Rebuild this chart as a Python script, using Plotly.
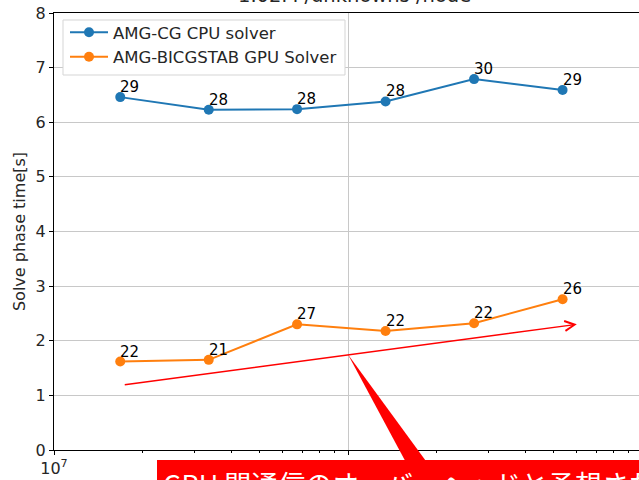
import math
import plotly.graph_objects as go

# ---- data ----
problem_size = [16.8e6, 33.6e6, 67.1e6, 134.2e6, 268.4e6, 536.9e6]
cpu_time = [6.46, 6.23, 6.24, 6.38, 6.79, 6.59]
gpu_time = [1.62, 1.65, 2.30, 2.18, 2.32, 2.76]
cpu_labels = ["29", "28", "28", "28", "30", "29"]
gpu_labels = ["22", "21", "27", "22", "22", "26"]
cpu_name = "AMG-CG CPU solver"
gpu_name = "AMG-BICGSTAB GPU Solver"
trend_x = [1.72e7, 6.0e8]
trend_y = [1.19, 2.30]
callout_tip = (1.0e8, 1.75)
callout_text = "GPU 間通信のオーバーヘッドと予想される"
title_text = "1.02M /unknowns /node"
y_title = "Solve phase time[s]"
x_tick_vals = [1e7, 1e8, 1e9]
x_tick_text = ["10<sup>7</sup>", "", ""]   # 10^8 label is hidden under the callout box
x_minor_vals = [m * d for d in (1e7, 1e8) for m in range(2, 10)]
y_tick_vals = list(range(0, 9))

# ---- layout geometry (pixels) ----
W, H = 639, 480
L, T, B = 54, 13, 30
plot_w = W - L
plot_h = H - T - B
decade_px = 294.0
x_range = [7, 7 + plot_w / decade_px]
y_range = [0, 8]


def px_x(px):
    return (px - L) / plot_w


def px_y(py):
    return (H - B - py) / plot_h


def data_paper_x(x):
    return (math.log10(x) - x_range[0]) / (x_range[1] - x_range[0])


def data_paper_y(y):
    return (y - y_range[0]) / (y_range[1] - y_range[0])


BLUE = "#1f77b4"
ORANGE = "#ff7f0e"
FONT = "DejaVu Sans"
TXT = "#262626"

fig = go.Figure()
fig.add_trace(go.Scatter(x=problem_size, y=cpu_time, mode="lines+markers", name=cpu_name,
                         line=dict(color=BLUE, width=2), marker=dict(color=BLUE, size=10)))
fig.add_trace(go.Scatter(x=problem_size, y=gpu_time, mode="lines+markers", name=gpu_name,
                         line=dict(color=ORANGE, width=2), marker=dict(color=ORANGE, size=10)))

annotations = []
for xs, ys, labs in ((problem_size, cpu_time, cpu_labels), (problem_size, gpu_time, gpu_labels)):
    for xv, yv, lab in zip(xs, ys, labs):
        annotations.append(dict(x=math.log10(xv), y=yv, xref="x", yref="y", text=lab,
                                showarrow=False, xanchor="left", yanchor="bottom",
                                xshift=-2, yshift=-1,
                                font=dict(family=FONT, size=15, color="black")))

# red trend arrow
annotations.append(dict(x=math.log10(trend_x[1]), y=trend_y[1], xref="x", yref="y",
                        ax=math.log10(trend_x[0]), ay=trend_y[0], axref="x", ayref="y",
                        text="", showarrow=True, arrowhead=5, arrowsize=1.3,
                        arrowwidth=1.5, arrowcolor="red", standoff=0))

# callout text on red background (box also drawn as a shape)
annotations.append(dict(x=px_x(157), y=px_y(460), xref="paper", yref="paper",
                        xanchor="left", yanchor="top", showarrow=False, borderpad=3,
                        xshift=2, bgcolor="red", text=callout_text,
                        font=dict(family="Noto Sans CJK JP", size=27, color="white")))

# partially visible title
annotations.append(dict(x=px_x(354), y=px_y(9), xref="paper", yref="paper",
                        xanchor="center", yanchor="bottom", showarrow=False,
                        text=title_text, font=dict(family=FONT, size=19.5, color=TXT)))

tx, ty = data_paper_x(callout_tip[0]), data_paper_y(callout_tip[1])
wedge = f"M {tx},{ty} L {px_x(409)},{px_y(468)} L {px_x(431)},{px_y(468)} Z"
shapes = [
    # legend frame
    dict(type="rect", xref="paper", yref="paper", x0=px_x(63), x1=px_x(345),
         y0=px_y(75), y1=px_y(20), fillcolor="white", line=dict(color="#d5d5d5", width=1),
         layer="above"),
    dict(type="rect", xref="paper", yref="paper", x0=px_x(157), x1=px_x(720),
         y0=px_y(500), y1=px_y(460), fillcolor="red", line=dict(width=0), layer="above"),
    dict(type="path", path=wedge, xref="paper", yref="paper",
         fillcolor="red", line=dict(width=0), layer="above"),
]

fig.update_layout(
    width=W, height=H,
    margin=dict(l=L, r=0, t=T, b=B, pad=0, autoexpand=False),
    paper_bgcolor="white", plot_bgcolor="white",
    font=dict(family=FONT, size=16, color=TXT),
    showlegend=True,
    legend=dict(x=px_x(65), y=px_y(15), xanchor="left", yanchor="top",
                bgcolor="rgba(0,0,0,0)", borderwidth=0,
                font=dict(family=FONT, size=16.5, color=TXT),
                itemwidth=38, tracegroupgap=0),
    annotations=annotations,
    shapes=shapes,
)
fig.update_xaxes(type="log", range=x_range, tickvals=x_tick_vals, ticktext=x_tick_text,
                 automargin=False,
                 showgrid=True, gridcolor="#c8c8c8", gridwidth=1,
                 showline=True, linecolor="black", linewidth=1, mirror=True,
                 ticks="outside", ticklen=4, tickcolor="black",
                 minor=dict(tickvals=x_minor_vals, ticks="outside", ticklen=2,
                            tickcolor="black", showgrid=False),
                 tickfont=dict(family=FONT, size=16, color=TXT), zeroline=False)
fig.update_yaxes(range=y_range, tickvals=y_tick_vals, automargin=False,
                 showgrid=True, gridcolor="#c8c8c8", gridwidth=1,
                 showline=True, linecolor="black", linewidth=1, mirror=True,
                 ticks="outside", ticklen=4, tickcolor="black",
                 title=dict(text=y_title, font=dict(family=FONT, size=16, color=TXT), standoff=6),
                 tickfont=dict(family=FONT, size=16, color=TXT), zeroline=False)

fig.write_html("out.html", config={"displayModeBar": False},
               post_script="document.body.style.margin='0px';document.body.style.overflow='hidden';")
